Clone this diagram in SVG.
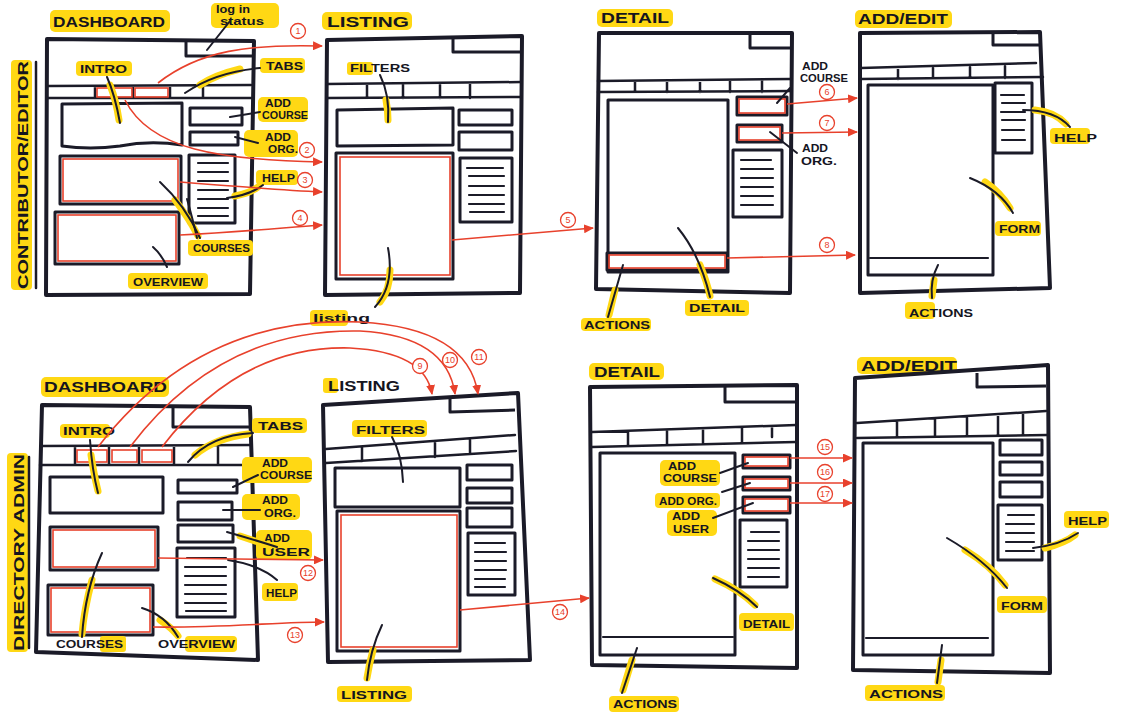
<svg xmlns="http://www.w3.org/2000/svg" width="1128" height="727" viewBox="0 0 1128 727">
<defs>
<marker id="ah" viewBox="0 0 10 9" refX="9" refY="4.5" markerWidth="10" markerHeight="9" markerUnits="userSpaceOnUse" orient="auto">
<path d="M0,0 L10,4.5 L0,9 Z" fill="#e8412c"/>
</marker>
<style>
.frame{fill:#fff;stroke:#1b1b28;stroke-width:4;stroke-linejoin:round;stroke-linecap:round}
.box{fill:none;stroke:#1b1b28;stroke-width:3;stroke-linejoin:round}
.ln{fill:none;stroke:#1b1b28;stroke-width:2.5;stroke-linecap:round}
.hln{fill:none;stroke:#1b1b28;stroke-width:2.2;stroke-linecap:round}
.red{fill:none;stroke:#e8412c;stroke-width:1.6}
.hl{fill:#ffd814}
.hlt{fill:none;stroke:#ffd814;stroke-width:7;stroke-linecap:round}
.lead{fill:none;stroke:#1b1b28;stroke-width:2;stroke-linecap:round}
.lbl{font-family:"Liberation Sans",Arial,sans-serif;font-weight:bold;fill:#15151f;font-size:11px}
.ttl{font-family:"Liberation Sans",Arial,sans-serif;font-weight:bold;fill:#15151f;font-size:15px}
.conn{fill:none;stroke:#e8412c;stroke-width:1.6;marker-end:url(#ah)}
.nc{fill:#fff;stroke:#e8412c;stroke-width:1.3}
.nt{font-family:"Liberation Sans",Arial,sans-serif;fill:#e8412c;font-size:9px;text-anchor:middle}
</style>
</defs>
<rect width="1128" height="727" fill="#fff"/>

<!-- role labels -->
<g id="role-contributor">
<rect class="hl" x="11" y="60" width="21" height="230" rx="4"/>
<text class="ttl" transform="translate(28,289) rotate(-90)" textLength="228" lengthAdjust="spacingAndGlyphs">CONTRIBUTOR/EDITOR</text>
<path class="ln" d="M36,62 L36,288"/>
</g>
<g id="role-admin">
<rect class="hl" x="7" y="453" width="21" height="199" rx="4"/>
<text class="ttl" transform="translate(24,651) rotate(-90)" textLength="197" lengthAdjust="spacingAndGlyphs">DIRECTORY ADMIN</text>
<path class="ln" d="M29,457 L29,648"/>
</g>

<!-- ========== TOP ROW ========== -->
<g id="dashboard-1">
<rect class="hl" x="50" y="10" width="120" height="22" rx="5"/>
<text class="ttl" x="53" y="27" textLength="112" lengthAdjust="spacingAndGlyphs">DASHBOARD</text>
<path class="frame" d="M47,39 L254,41 L250,294 L46,295 Z"/>
<path class="box" d="M186,41 L186,56 L252,56"/>
<path class="ln" d="M48,86 L251,85 M48,98 L251,98 M95,86 L95,98 M133,86 L133,98 M170,86 L170,98 M203,86 L203,98"/>
<rect class="red" x="97" y="88" width="35" height="9"/>
<rect class="red" x="135" y="88" width="33" height="9"/>
<path class="box" d="M62,104 L182,103 L182,145 Q150,140 120,146 Q90,150 62,146 Z"/>
<rect class="box" x="190" y="108" width="52" height="17"/>
<rect class="box" x="190" y="132" width="48" height="13"/>
<rect class="box" x="189" y="155" width="46" height="68"/>
<path class="hln" d="M198,163 L228,163 M198,172 L228,172 M198,181 L228,181 M198,190 L228,190 M198,199 L228,199 M198,208 L228,208 M198,216 L228,216"/>
<rect class="box" x="60" y="156" width="121" height="48"/>
<rect class="red" x="63" y="159" width="115" height="42"/>
<rect class="box" x="55" y="212" width="124" height="52"/>
<rect class="red" x="58" y="215" width="118" height="46"/>
<!-- labels -->
<rect class="hl" x="211" y="3" width="68" height="25" rx="5"/>
<text class="lbl" x="216" y="13" font-size="10" font-weight="normal" textLength="34" lengthAdjust="spacingAndGlyphs">log in</text>
<text class="lbl" x="220" y="25" font-size="10" font-weight="normal" textLength="44" lengthAdjust="spacingAndGlyphs">status</text>
<path class="lead" d="M230,21 L207,50"/>
<rect class="hl" x="76" y="61" width="56" height="15" rx="4"/>
<text class="lbl" x="80" y="73" textLength="47" lengthAdjust="spacingAndGlyphs">INTRO</text>
<path class="hlt" d="M110,85 Q116,100 119,120"/>
<path class="lead" d="M107,77 Q115,95 120,123"/>
<rect class="hl" x="260" y="58" width="45" height="15" rx="4"/>
<text class="lbl" x="266" y="70" textLength="37" lengthAdjust="spacingAndGlyphs">TABS</text>
<path class="hlt" d="M240,69 Q215,75 200,85"/>
<path class="lead" d="M260,68 Q215,72 185,93"/>
<rect class="hl" x="258" y="97" width="50" height="25" rx="5"/>
<text class="lbl" x="265" y="107" font-size="10" textLength="26" lengthAdjust="spacingAndGlyphs">ADD</text>
<text class="lbl" x="262" y="119" font-size="10" textLength="46" lengthAdjust="spacingAndGlyphs">COURSE</text>
<path class="lead" d="M230,117 L260,112"/>
<rect class="hl" x="244" y="130" width="54" height="27" rx="5"/>
<text class="lbl" x="265" y="141" font-size="10" textLength="26" lengthAdjust="spacingAndGlyphs">ADD</text>
<text class="lbl" x="268" y="153" font-size="10" textLength="30" lengthAdjust="spacingAndGlyphs">ORG.</text>
<path class="lead" d="M235,137 L258,143"/>
<rect class="hl" x="256" y="170" width="42" height="15" rx="4"/>
<text class="lbl" x="262" y="182" textLength="33" lengthAdjust="spacingAndGlyphs">HELP</text>
<path class="hlt" d="M235,196 Q250,193 258,187"/>
<path class="lead" d="M227,198 Q250,195 263,185"/>
<rect class="hl" x="188" y="240" width="65" height="16" rx="4"/>
<text class="lbl" x="193" y="252" textLength="57" lengthAdjust="spacingAndGlyphs">COURSES</text>
<path class="hlt" d="M175,200 Q190,220 198,236"/>
<path class="lead" d="M160,182 Q185,205 200,238"/>
<path class="lead" d="M187,199 Q193,220 197,238"/>
<rect class="hl" x="128" y="273" width="80" height="16" rx="4"/>
<text class="lbl" x="133" y="286" textLength="70" lengthAdjust="spacingAndGlyphs">OVERVIEW</text>
<path class="lead" d="M153,247 Q162,255 167,267"/>
</g>

<g id="listing-1">
<rect class="hl" x="322" y="12" width="90" height="18" rx="5"/>
<text class="ttl" x="327" y="27" font-size="14" textLength="82" lengthAdjust="spacingAndGlyphs">LISTING</text>
<path class="frame" d="M327,40 L522,36 L520,293 L325,295 Z"/>
<path class="box" d="M453,37 L453,52 L521,52"/>
<path class="ln" d="M327,84 L521,82 M327,98 L521,97 M367,84 L367,98 M403,84 L403,98 M440,84 L440,98 M470,84 L470,98"/>
<path class="box" d="M337,110 L453,108 L453,145 L337,146 Z"/>
<rect class="box" x="459" y="110" width="53" height="15"/>
<rect class="box" x="459" y="132" width="53" height="18"/>
<rect class="box" x="460" y="158" width="52" height="64"/>
<path class="hln" d="M467,168 L503,168 M469,176 L504,176 M469,186 L504,186 M469,195 L504,195 M469,204 L504,204 M470,212 L504,212"/>
<rect class="box" x="336" y="153" width="117" height="126"/>
<rect class="red" x="340" y="157" width="110" height="118"/>
<rect class="hl" x="347" y="62" width="26" height="13" rx="3"/>
<text class="lbl" x="350" y="72" textLength="60" lengthAdjust="spacingAndGlyphs">FILTERS</text>
<path class="hlt" d="M386,100 Q388,110 388,120"/>
<path class="lead" d="M380,75 Q390,95 388,122"/>
<rect class="hl" x="310" y="310" width="38" height="16" rx="4"/>
<text class="lbl" x="313" y="322" font-size="12" textLength="57" lengthAdjust="spacingAndGlyphs">listing</text>
<path class="hlt" d="M390,270 Q390,290 380,302"/>
<path class="lead" d="M388,248 Q395,285 375,307"/>
</g>

<g id="detail-1">
<rect class="hl" x="597" y="9" width="76" height="18" rx="5"/>
<text class="ttl" x="601" y="23" font-size="14" textLength="68" lengthAdjust="spacingAndGlyphs">DETAIL</text>
<path class="frame" d="M599,33 L792,33 L790,293 L596,289 Z"/>
<path class="box" d="M750,34 L750,48 L791,48"/>
<path class="ln" d="M598,81 L791,79 M598,92 L791,91 M635,81 L635,92 M667,81 L667,92 M700,80 L700,92 M730,80 L730,92 M762,80 L762,92"/>
<rect class="box" x="608" y="100" width="120" height="172"/>
<rect class="box" x="607" y="253" width="120" height="17"/>
<rect class="red" x="609" y="255" width="116" height="13"/>
<rect class="box" x="737" y="97" width="50" height="18"/>
<rect class="red" x="739" y="99" width="46" height="14"/>
<rect class="box" x="737" y="125" width="45" height="17"/>
<rect class="red" x="739" y="127" width="41" height="13"/>
<rect class="box" x="733" y="150" width="49" height="67"/>
<path class="hln" d="M741,160 L771,160 M741,169 L773,169 M741,178 L773,178 M741,187 L773,187 M741,196 L773,196 M741,205 L773,205"/>
<text class="lbl" x="802" y="70" font-size="10" textLength="26" lengthAdjust="spacingAndGlyphs">ADD</text>
<text class="lbl" x="800" y="82" font-size="10" textLength="48" lengthAdjust="spacingAndGlyphs">COURSE</text>
<path class="lead" d="M777,103 L790,88"/>
<text class="lbl" x="802" y="152" font-size="10" textLength="26" lengthAdjust="spacingAndGlyphs">ADD</text>
<text class="lbl" x="801" y="165" font-size="10" textLength="36" lengthAdjust="spacingAndGlyphs">ORG.</text>
<path class="lead" d="M770,132 L797,153"/>
<rect class="hl" x="581" y="318" width="70" height="13" rx="4"/>
<text class="lbl" x="584" y="329" textLength="66" lengthAdjust="spacingAndGlyphs">ACTIONS</text>
<path class="hlt" d="M615,290 L609,315"/>
<path class="lead" d="M623,265 L608,317"/>
<rect class="hl" x="685" y="300" width="64" height="16" rx="4"/>
<text class="lbl" x="689" y="312" textLength="56" lengthAdjust="spacingAndGlyphs">DETAIL</text>
<path class="hlt" d="M700,265 Q707,282 710,296"/>
<path class="lead" d="M678,228 Q700,255 710,297"/>
</g>

<g id="addedit-1">
<rect class="hl" x="855" y="10" width="97" height="18" rx="5"/>
<text class="ttl" x="858" y="24" font-size="14" textLength="90" lengthAdjust="spacingAndGlyphs">ADD/EDIT</text>
<path class="frame" d="M860,33 L1040,32 L1050,288 L860,293 Z"/>
<path class="box" d="M993,33 L993,45 L1041,45"/>
<path class="ln" d="M861,68 L1036,63 M861,79 L1043,77 M898,69 L898,79 M933,68 L933,78 M970,67 L970,78 M1005,66 L1005,78"/>
<rect class="box" x="868" y="85" width="125" height="190"/>
<path class="hln" d="M870,258 L988,258"/>
<rect class="box" x="995" y="83" width="37" height="70"/>
<path class="hln" d="M1001,95 L1024,95 M1002,103 L1025,103 M1001,112 L1025,112 M1002,120 L1025,120 M1002,130 L1024,130 M1002,140 L1025,140"/>
<rect class="hl" x="1050" y="128" width="40" height="16" rx="4"/>
<text class="lbl" x="1054" y="142" textLength="43" lengthAdjust="spacingAndGlyphs">HELP</text>
<path class="hlt" d="M1035,110 Q1055,112 1066,124"/>
<path class="lead" d="M1023,110 Q1055,110 1070,127"/>
<rect class="hl" x="995" y="221" width="46" height="15" rx="4"/>
<text class="lbl" x="999" y="233" textLength="41" lengthAdjust="spacingAndGlyphs">FORM</text>
<path class="hlt" d="M985,182 Q1000,192 1010,208"/>
<path class="lead" d="M970,178 Q1000,190 1013,213"/>
<rect class="hl" x="905" y="302" width="30" height="17" rx="4"/>
<text class="lbl" x="909" y="317" textLength="64" lengthAdjust="spacingAndGlyphs">ACTIONS</text>
<path class="hlt" d="M934,280 L932,296"/>
<path class="lead" d="M938,265 Q930,280 932,298"/>
</g>

<!-- ========== BOTTOM ROW ========== -->
<g id="dashboard-2">
<rect class="hl" x="41" y="377" width="128" height="20" rx="5"/>
<text class="ttl" x="44" y="392" textLength="123" lengthAdjust="spacingAndGlyphs">DASHBOARD</text>
<path class="frame" d="M42,405 L250,407 L258,660 L36,652 Z"/>
<path class="box" d="M173,408 L173,427 L249,427"/>
<path class="ln" d="M41,446 L251,445 M40,465 L252,465 M75,446 L75,465 M109,446 L109,465 M139,446 L139,465 M174,446 L174,465 M218,446 L218,465"/>
<rect class="red" x="77" y="450" width="30" height="12"/>
<rect class="red" x="112" y="450" width="25" height="12"/>
<rect class="red" x="142" y="450" width="30" height="12"/>
<rect class="box" x="50" y="477" width="113" height="36"/>
<rect class="box" x="178" y="480" width="59" height="13"/>
<rect class="box" x="178" y="502" width="54" height="18"/>
<rect class="box" x="178" y="525" width="55" height="17"/>
<rect class="box" x="177" y="548" width="58" height="69"/>
<path class="hln" d="M187,558 L226,558 M185,567 L226,567 M185,576 L226,576 M185,585 L226,585 M185,594 L226,594 M185,603 L226,603 M186,611 L226,611"/>
<rect class="box" x="50" y="527" width="108" height="43"/>
<rect class="red" x="53" y="530" width="102" height="37"/>
<rect class="box" x="48" y="585" width="105" height="50"/>
<rect class="red" x="51" y="588" width="99" height="44"/>
<rect class="hl" x="60" y="424" width="50" height="14" rx="4"/>
<text class="lbl" x="63" y="435" textLength="52" lengthAdjust="spacingAndGlyphs">INTRO</text>
<path class="hlt" d="M91,455 Q94,475 98,491"/>
<path class="lead" d="M90,440 Q92,470 98,493"/>
<rect class="hl" x="252" y="418" width="55" height="15" rx="4"/>
<text class="lbl" x="258" y="430" textLength="45" lengthAdjust="spacingAndGlyphs">TABS</text>
<path class="hlt" d="M248,434 Q215,438 195,455"/>
<path class="lead" d="M253,433 Q210,435 188,462"/>
<rect class="hl" x="242" y="457" width="70" height="26" rx="5"/>
<text class="lbl" x="262" y="467" font-size="10" textLength="26" lengthAdjust="spacingAndGlyphs">ADD</text>
<text class="lbl" x="260" y="479" font-size="10" textLength="52" lengthAdjust="spacingAndGlyphs">COURSE</text>
<path class="lead" d="M233,487 L258,475"/>
<rect class="hl" x="242" y="494" width="58" height="26" rx="5"/>
<text class="lbl" x="262" y="504" font-size="10" textLength="26" lengthAdjust="spacingAndGlyphs">ADD</text>
<text class="lbl" x="264" y="517" font-size="10" textLength="32" lengthAdjust="spacingAndGlyphs">ORG.</text>
<path class="lead" d="M223,510 L260,510"/>
<rect class="hl" x="256" y="530" width="56" height="30" rx="5"/>
<text class="lbl" x="264" y="542" font-size="10" textLength="26" lengthAdjust="spacingAndGlyphs">ADD</text>
<text class="lbl" x="262" y="556" font-size="11" textLength="48" lengthAdjust="spacingAndGlyphs">USER</text>
<path class="hlt" d="M240,536 Q258,542 270,546"/>
<path class="lead" d="M227,532 Q255,540 277,547"/>
<rect class="hl" x="262" y="583" width="36" height="18" rx="4"/>
<text class="lbl" x="266" y="597" textLength="31" lengthAdjust="spacingAndGlyphs">HELP</text>
<path class="lead" d="M228,560 Q260,565 277,580"/>
<rect class="hl" x="100" y="636" width="26" height="16" rx="3"/>
<text class="lbl" x="56" y="648" textLength="67" lengthAdjust="spacingAndGlyphs">COURSES</text>
<path class="hlt" d="M92,580 Q84,610 82,634"/>
<path class="lead" d="M102,553 Q85,590 82,637"/>
<rect class="hl" x="185" y="636" width="52" height="16" rx="4"/>
<text class="lbl" x="158" y="648" textLength="77" lengthAdjust="spacingAndGlyphs">OVERVIEW</text>
<path class="hlt" d="M160,620 Q172,628 178,636"/>
<path class="lead" d="M142,608 Q165,615 178,637"/>
</g>

<g id="listing-2">
<rect class="hl" x="323" y="378" width="15" height="15" rx="3"/>
<text class="ttl" x="328" y="391" font-size="13" textLength="72" lengthAdjust="spacingAndGlyphs">LISTING</text>
<path class="frame" d="M323,405 L518,393 L530,660 L328,662 Z"/>
<path class="box" d="M450,398 L450,412 L515,410"/>
<path class="ln" d="M326,449 L515,435 M326,463 L516,451 M362,447 L362,461 M435,442 L435,457 M470,440 L470,454"/>
<rect class="box" x="335" y="468" width="125" height="39"/>
<rect class="box" x="467" y="465" width="45" height="15"/>
<rect class="box" x="467" y="488" width="45" height="15"/>
<rect class="box" x="467" y="508" width="45" height="19"/>
<rect class="box" x="468" y="533" width="47" height="62"/>
<path class="hln" d="M475,543 L505,543 M475,552 L506,552 M475,561 L506,561 M475,570 L506,570 M475,579 L505,579 M475,587 L505,587"/>
<rect class="box" x="337" y="511" width="123" height="140"/>
<rect class="red" x="341" y="515" width="116" height="132"/>
<rect class="hl" x="352" y="420" width="75" height="17" rx="4"/>
<text class="lbl" x="356" y="434" textLength="69" lengthAdjust="spacingAndGlyphs">FILTERS</text>
<path class="lead" d="M392,437 Q402,455 403,482"/>
<rect class="hl" x="337" y="686" width="75" height="16" rx="4"/>
<text class="lbl" x="341" y="699" textLength="66" lengthAdjust="spacingAndGlyphs">LISTING</text>
<path class="hlt" d="M373,650 Q369,665 367,678"/>
<path class="lead" d="M382,625 Q370,650 367,680"/>
</g>

<g id="detail-2">
<rect class="hl" x="589" y="363" width="75" height="17" rx="5"/>
<text class="ttl" x="594" y="377" font-size="13" textLength="66" lengthAdjust="spacingAndGlyphs">DETAIL</text>
<path class="frame" d="M590,387 L797,385 L797,668 L592,665 Z"/>
<path class="box" d="M725,387 L725,402 L795,402"/>
<path class="ln" d="M592,432 L796,425 M592,447 L796,442 M628,431 L628,446 M667,430 L667,445 M703,429 L703,444 M742,428 L742,443 M772,426 L772,437"/>
<rect class="box" x="600" y="453" width="135" height="202"/>
<path class="hln" d="M603,637 L733,637"/>
<rect class="box" x="743" y="455" width="47" height="13"/>
<rect class="red" x="745" y="457" width="43" height="9"/>
<rect class="box" x="743" y="477" width="47" height="13"/>
<rect class="red" x="745" y="479" width="43" height="9"/>
<rect class="box" x="743" y="497" width="47" height="16"/>
<rect class="red" x="745" y="499" width="43" height="12"/>
<rect class="box" x="740" y="520" width="47" height="67"/>
<path class="hln" d="M751,532 L779,532 M748,541 L779,541 M748,550 L779,550 M748,559 L779,559 M748,568 L779,568 M748,577 L779,577"/>
<rect class="hl" x="660" y="460" width="60" height="26" rx="5"/>
<text class="lbl" x="668" y="470" font-size="10" textLength="28" lengthAdjust="spacingAndGlyphs">ADD</text>
<text class="lbl" x="663" y="482" font-size="10" textLength="54" lengthAdjust="spacingAndGlyphs">COURSE</text>
<path class="lead" d="M720,473 L748,463"/>
<rect class="hl" x="655" y="493" width="65" height="15" rx="4"/>
<text class="lbl" x="659" y="505" font-size="10" textLength="58" lengthAdjust="spacingAndGlyphs">ADD ORG.</text>
<path class="lead" d="M722,492 L750,483"/>
<rect class="hl" x="667" y="510" width="50" height="26" rx="5"/>
<text class="lbl" x="672" y="520" font-size="10" textLength="28" lengthAdjust="spacingAndGlyphs">ADD</text>
<text class="lbl" x="673" y="533" font-size="10" textLength="36" lengthAdjust="spacingAndGlyphs">USER</text>
<path class="lead" d="M713,518 L753,503"/>
<rect class="hl" x="739" y="613" width="55" height="18" rx="4"/>
<text class="lbl" x="743" y="628" textLength="47" lengthAdjust="spacingAndGlyphs">DETAIL</text>
<path class="hlt" d="M715,579 Q740,590 755,605"/>
<path class="lead" d="M713,578 Q740,590 757,607"/>
<rect class="hl" x="609" y="696" width="70" height="16" rx="4"/>
<text class="lbl" x="613" y="708" textLength="64" lengthAdjust="spacingAndGlyphs">ACTIONS</text>
<path class="hlt" d="M632,660 L623,690"/>
<path class="lead" d="M637,648 L622,693"/>
</g>

<g id="addedit-2">
<rect class="hl" x="857" y="357" width="100" height="17" rx="5"/>
<text class="ttl" x="861" y="371" font-size="14" textLength="96" lengthAdjust="spacingAndGlyphs">ADD/EDIT</text>
<path class="frame" d="M855,378 L1048,365 L1050,673 L853,670 Z"/>
<path class="box" d="M977,373 L977,387 L1046,386"/>
<path class="ln" d="M857,423 L1046,411 M857,438 L1047,435 M897,421 L897,437 M935,419 L935,436 M967,418 L967,436 M998,416 L998,436 M1023,414 L1023,435"/>
<rect class="box" x="863" y="443" width="130" height="212"/>
<path class="hln" d="M866,638 L988,638"/>
<rect class="box" x="1000" y="440" width="42" height="15"/>
<rect class="box" x="1000" y="462" width="42" height="13"/>
<rect class="box" x="1000" y="482" width="42" height="15"/>
<rect class="box" x="998" y="505" width="44" height="55"/>
<path class="hln" d="M1008,515 L1034,515 M1006,524 L1034,524 M1006,533 L1034,533 M1006,542 L1034,542 M1006,551 L1034,551"/>
<rect class="hl" x="1064" y="511" width="45" height="17" rx="4"/>
<text class="lbl" x="1068" y="525" textLength="39" lengthAdjust="spacingAndGlyphs">HELP</text>
<path class="hlt" d="M1045,548 Q1065,543 1075,535"/>
<path class="lead" d="M1033,548 Q1060,545 1078,533"/>
<rect class="hl" x="997" y="596" width="50" height="17" rx="4"/>
<text class="lbl" x="1001" y="610" textLength="42" lengthAdjust="spacingAndGlyphs">FORM</text>
<path class="hlt" d="M965,550 Q990,565 1005,585"/>
<path class="lead" d="M947,538 Q985,560 1007,588"/>
<rect class="hl" x="865" y="685" width="80" height="16" rx="4"/>
<text class="lbl" x="869" y="698" textLength="74" lengthAdjust="spacingAndGlyphs">ACTIONS</text>
<path class="hlt" d="M941,660 L938,682"/>
<path class="lead" d="M942,645 L937,683"/>
</g>

<!-- ========== CONNECTORS ========== -->
<g id="connectors">
<path class="conn" d="M158,83 C200,50 250,44 322,46"/>
<path class="conn" d="M125,100 C150,150 220,160 322,162"/>
<path class="conn" d="M180,182 C230,186 280,190 322,192"/>
<path class="conn" d="M180,235 C240,232 280,228 322,225"/>
<path class="conn" d="M452,240 L593,228"/>
<path class="conn" d="M787,104 L857,98"/>
<path class="conn" d="M782,133 L857,132"/>
<path class="conn" d="M727,258 L855,255"/>
<path class="conn" d="M162,447 Q240,345 350,348 Q425,352 432,394"/>
<path class="conn" d="M130,447 Q220,328 360,331 Q447,336 455,394"/>
<path class="conn" d="M98,447 Q200,315 360,322 Q468,328 478,394"/>
<path class="conn" d="M158,558 L323,560"/>
<path class="conn" d="M153,627 C220,628 280,622 324,622"/>
<path class="conn" d="M460,610 L589,598"/>
<path class="conn" d="M790,458 L852,458"/>
<path class="conn" d="M790,483 L852,483"/>
<path class="conn" d="M790,503 L852,503"/>
<g id="numbers">
<circle class="nc" cx="298" cy="31" r="7.5"/><text class="nt" x="298" y="34">1</text>
<circle class="nc" cx="307" cy="150" r="7.5"/><text class="nt" x="307" y="153">2</text>
<circle class="nc" cx="305" cy="180" r="7.5"/><text class="nt" x="305" y="183">3</text>
<circle class="nc" cx="300" cy="218" r="7.5"/><text class="nt" x="300" y="221">4</text>
<circle class="nc" cx="568" cy="220" r="7.5"/><text class="nt" x="568" y="223">5</text>
<circle class="nc" cx="827" cy="92" r="7.5"/><text class="nt" x="827" y="95">6</text>
<circle class="nc" cx="827" cy="123" r="7.5"/><text class="nt" x="827" y="126">7</text>
<circle class="nc" cx="827" cy="245" r="7.5"/><text class="nt" x="827" y="248">8</text>
<circle class="nc" cx="420" cy="366" r="7.5"/><text class="nt" x="420" y="369">9</text>
<circle class="nc" cx="450" cy="360" r="7.5"/><text class="nt" x="450" y="363">10</text>
<circle class="nc" cx="479" cy="357" r="7.5"/><text class="nt" x="479" y="360">11</text>
<circle class="nc" cx="308" cy="573" r="7.5"/><text class="nt" x="308" y="576">12</text>
<circle class="nc" cx="295" cy="635" r="7.5"/><text class="nt" x="295" y="638">13</text>
<circle class="nc" cx="560" cy="612" r="7.5"/><text class="nt" x="560" y="615">14</text>
<circle class="nc" cx="825" cy="447" r="7.5"/><text class="nt" x="825" y="450">15</text>
<circle class="nc" cx="825" cy="472" r="7.5"/><text class="nt" x="825" y="475">16</text>
<circle class="nc" cx="825" cy="494" r="7.5"/><text class="nt" x="825" y="497">17</text>
</g>
</g>
</svg>
